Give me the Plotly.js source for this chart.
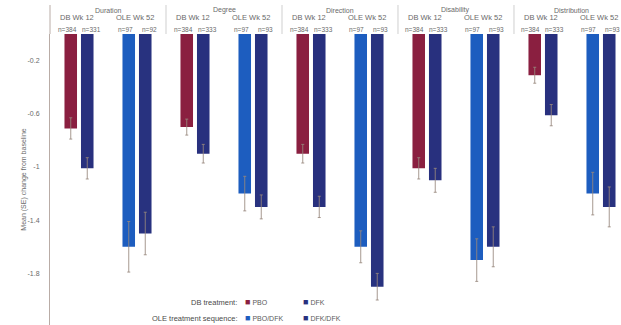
<!DOCTYPE html>
<html>
<head>
<meta charset="utf-8">
<script src="https://cdn.plot.ly/plotly-3.0.1.min.js"></script>
<style>html,body{margin:0;padding:0;background:#fff;}#chart{width:621px;height:325px;}</style>
</head>
<body>
<div id="chart"></div>
<script>
// ---- data ----
const groups = ['Duration', 'Degree', 'Direction', 'Disability', 'Distribution'];
const periods = ['DB Wk 12', 'OLE Wk 52'];

const dbPBO = [-0.71, -0.70, -0.90, -1.01, -0.31];
const dbPBOse = [0.08, 0.06, 0.07, 0.08, 0.06];
const dbDFK = [-1.01, -0.90, -1.30, -1.10, -0.61];
const dbDFKse = [0.08, 0.07, 0.08, 0.09, 0.08];
const olePBODFK = [-1.60, -1.20, -1.60, -1.70, -1.20];
const olePBODFKse = [0.19, 0.13, 0.12, 0.16, 0.16];
const oleDFKDFK = [-1.50, -1.30, -1.90, -1.60, -1.30];
const oleDFKDFKse = [0.16, 0.09, 0.10, 0.15, 0.15];

const nDBPBO = ['n=384', 'n=384', 'n=384', 'n=384', 'n=384'];
const nDBDFK = ['n=331', 'n=333', 'n=333', 'n=333', 'n=333'];
const nOLEPBODFK = ['n=97', 'n=97', 'n=97', 'n=97', 'n=97'];
const nOLEDFKDFK = ['n=92', 'n=93', 'n=93', 'n=93', 'n=93'];

const yTickVals = [-0.2, -0.6, -1, -1.4, -1.8, -2.2];
const yTickText = ['-0.2', '-0.6', '-1', '-1.4', '-1.8', '-2.2'];

const legendRows = ['DB treatment:', 'OLE treatment sequence:'];

// ---- build ----
const dbCats = groups.map(g => g + ' · ' + periods[0]);
const oleCats = groups.map(g => g + ' · ' + periods[1]);
const allCats = [];
groups.forEach((g, i) => { allCats.push(dbCats[i]); allCats.push(oleCats[i]); });

const cPBO = '#8a1f40', cDFK = '#28307e', cPBODFK = '#1d5dbf', cDFKDFK = '#28327f';
const errStyle = (se) => ({type: 'data', array: se, symmetric: true, visible: true,
  color: 'rgba(150,135,125,0.85)', thickness: 1, width: 1.5});

const traces = [
  {type: 'bar', name: 'PBO', x: dbCats, y: dbPBO, offsetgroup: 'a', showlegend: false,
   marker: {color: cPBO}, error_y: errStyle(dbPBOse)},
  {type: 'bar', name: 'DFK', x: dbCats, y: dbDFK, offsetgroup: 'b', showlegend: false,
   marker: {color: cDFK}, error_y: errStyle(dbDFKse)},
  {type: 'bar', name: 'PBO/DFK', x: oleCats, y: olePBODFK, offsetgroup: 'a', showlegend: false,
   marker: {color: cPBODFK}, error_y: errStyle(olePBODFKse)},
  {type: 'bar', name: 'DFK/DFK', x: oleCats, y: oleDFKDFK, offsetgroup: 'b', showlegend: false,
   marker: {color: cDFKDFK}, error_y: errStyle(oleDFKDFKse)}
];

const W = 571, H = 291; // plot size in px
const py = (ypx) => 1 + (34 - ypx) / H;
const px = (xpx) => (xpx - 50) / W;
const txt = '#6a6a6a';
const annotations = [];
const shapes = [];
groups.forEach((g, i) => {
  annotations.push({xref: 'x', yref: 'paper', x: 2 * i + 0.5, y: py(10), text: g, showarrow: false,
    font: {size: 7, color: txt}, xanchor: 'center', yanchor: 'middle'});
  periods.forEach((p, j) => {
    annotations.push({xref: 'x', yref: 'paper', x: 2 * i + j, y: py(18), text: p, showarrow: false,
      font: {size: 7.5, color: txt}, xanchor: 'center', yanchor: 'middle', xshift: -2});
  });
  const nL = [nDBPBO[i], nOLEPBODFK[i]], nR = [nDBDFK[i], nOLEDFKDFK[i]];
  [0, 1].forEach(j => {
    annotations.push({xref: 'x', yref: 'paper', x: 2 * i + j, y: py(29), text: nL[j], showarrow: false,
      font: {size: 6.5, color: txt}, xanchor: 'center', yanchor: 'middle', xshift: -12});
    annotations.push({xref: 'x', yref: 'paper', x: 2 * i + j, y: py(29), text: nR[j], showarrow: false,
      font: {size: 6.5, color: txt}, xanchor: 'center', yanchor: 'middle', xshift: 12});
  });
  if (i > 0) {
    shapes.push({type: 'line', xref: 'x', yref: 'paper', x0: 2 * i - 0.5, x1: 2 * i - 0.5,
      y0: py(34), y1: py(5), line: {color: '#cfcfcf', width: 1}});
  }
});
shapes.push({type: 'line', xref: 'paper', yref: 'paper', x0: 0, x1: 0, y0: 1, y1: py(5),
  line: {color: '#b9aca6', width: 1}});

// legend built as text (two rows, two entries each)
const legRowsY = [302, 318];
const legEntries = [[traces[0], traces[1]], [traces[2], traces[3]]];
legendRows.forEach((title, r) => {
  annotations.push({xref: 'paper', yref: 'paper', x: px(239), y: py(legRowsY[r]), text: title,
    showarrow: false, xanchor: 'right', yanchor: 'middle', font: {size: 7.5, color: '#4a4a4a'}});
  legEntries[r].forEach((t, k) => {
    annotations.push({xref: 'paper', yref: 'paper', x: px(243 + 58 * k), y: py(legRowsY[r]),
      text: '<span style="color:' + t.marker.color + ';font-size:9px">■</span> ' + t.name,
      showarrow: false, xanchor: 'left', yanchor: 'middle', font: {size: 7, color: '#5a5a5a'}});
  });
});

const layout = {
  width: 621, height: 325,
  margin: {l: 50, r: 0, t: 34, b: 0, pad: 0},
  paper_bgcolor: '#ffffff', plot_bgcolor: '#ffffff',
  font: {family: 'Liberation Sans, Arial, sans-serif', color: txt, size: 7},
  barmode: 'group', bargap: 0.431, bargroupgap: 0.24,
  showlegend: false,
  xaxis: {type: 'category', categoryorder: 'array', categoryarray: allCats,
    range: [-0.5, 9.345], showticklabels: false, ticks: '', showgrid: false,
    zeroline: false, showline: false, fixedrange: true},
  yaxis: {range: [-2.188, 0], tickvals: yTickVals, ticktext: yTickText, ticks: '',
    showgrid: false, zeroline: false, showline: true, linecolor: '#b9aca6', linewidth: 1,
    ticklabelstandoff: 8, tickfont: {size: 7, color: txt},
    title: {text: 'Mean (SE) change from baseline', font: {size: 7, color: txt}, standoff: 0},
    automargin: false},
  annotations: annotations,
  shapes: shapes
};

Plotly.newPlot('chart', traces, layout, {displayModeBar: false, staticPlot: true});
</script>
</body>
</html>
